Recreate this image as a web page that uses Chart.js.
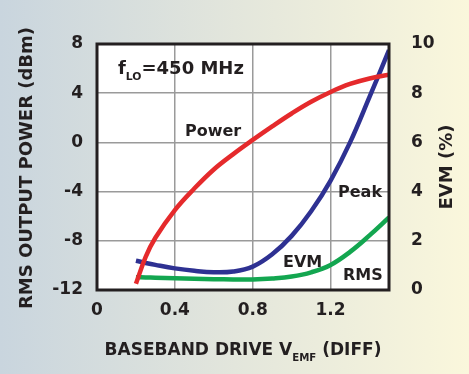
<!DOCTYPE html>
<html>
<head>
<meta charset="utf-8">
<script src="https://cdn.jsdelivr.net/npm/chart.js"></script>
<style>
  html, body { margin: 0; padding: 0; }
  canvas { display: block; }
</style>
</head>
<body>
<canvas id="grafico" width="469" height="374"></canvas>
<script>
// datos
const drive = [0.2, 0.25, 0.3, 0.4, 0.5, 0.6, 0.7, 0.8, 0.9, 1.0, 1.1, 1.2, 1.3, 1.4, 1.5];
const power = [-11.5, -9.3, -7.75, -5.5, -3.75, -2.2, -0.95, 0.2, 1.3, 2.35, 3.3, 4.1, 4.75, 5.2, 5.5];
const evmPeak = [1.19, 1.1, 1.02, 0.88, 0.78, 0.72, 0.75, 0.95, 1.45, 2.2, 3.2, 4.45, 6.0, 7.85, 9.75];
const evmRms = [0.52, 0.51, 0.5, 0.48, 0.46, 0.44, 0.43, 0.43, 0.47, 0.55, 0.72, 1.02, 1.55, 2.22, 2.95];

const xTicks = [0, 0.4, 0.8, 1.2];
const yTicks = [-12, -8, -4, 0, 4, 8];
const y2Ticks = [0, 2, 4, 6, 8, 10];

const FONT = '"DejaVu Sans", sans-serif';
const INK = '#231f20';

const pts = (ys) => drive.map((x, i) => ({ x: x, y: ys[i] }));

// fondo degradado + area blanca
const fondo = {
  id: 'fondo',
  beforeDraw(chart) {
    const { ctx, width, height, chartArea: a } = chart;
    const g = ctx.createLinearGradient(0, 0, width, 0);
    g.addColorStop(0, '#c9d5de');
    g.addColorStop(0.5, '#e3e6dc');
    g.addColorStop(1, '#faf7dc');
    ctx.save();
    ctx.fillStyle = g;
    ctx.fillRect(0, 0, width, height);
    ctx.fillStyle = '#ffffff';
    ctx.fillRect(a.left, a.top, a.right - a.left, a.bottom - a.top);
    ctx.restore();
  }
};

// texto con subindice
function subText(ctx, parts, x, y, size) {
  let cx = x;
  parts.forEach(([t, sub]) => {
    ctx.font = 'bold ' + (sub ? size * 0.6 : size) + 'px ' + FONT;
    ctx.fillText(t, cx, sub ? y + size * 0.35 : y);
    cx += ctx.measureText(t).width;
  });
}
function subWidth(ctx, parts, size) {
  let w = 0;
  parts.forEach(([t, sub]) => {
    ctx.font = 'bold ' + (sub ? size * 0.6 : size) + 'px ' + FONT;
    w += ctx.measureText(t).width;
  });
  return w;
}

const textos = {
  id: 'textos',
  afterDatasetsDraw(chart) {
    const { ctx, chartArea: a } = chart;
    ctx.save();
    // borde del grafico
    ctx.strokeStyle = INK;
    ctx.lineWidth = 3;
    ctx.strokeRect(a.left, a.top, a.right - a.left, a.bottom - a.top);

    ctx.fillStyle = INK;
    ctx.textBaseline = 'alphabetic';
    ctx.textAlign = 'left';
    subText(ctx, [['f', false], ['LO', true], ['=450 MHz', false]], 118, 74, 18);

    ctx.font = 'bold 16px ' + FONT;
    ctx.fillText('Power', 185, 136);
    ctx.fillText('Peak', 338, 197);
    ctx.fillText('EVM', 283, 267);
    ctx.fillText('RMS', 343, 280);

    // titulo eje x
    const px = [['BASEBAND DRIVE V', false], ['EMF', true], [' (DIFF)', false]];
    const w = subWidth(ctx, px, 17);
    subText(ctx, px, 243 - w / 2, 355, 17);

    // titulos ejes y
    ctx.font = 'bold 18px ' + FONT;
    ctx.textAlign = 'center';
    ctx.textBaseline = 'middle';
    ctx.save();
    ctx.translate(27, 168);
    ctx.rotate(-Math.PI / 2);
    ctx.fillText('RMS OUTPUT POWER (dBm)', 0, 0);
    ctx.restore();
    ctx.save();
    ctx.translate(447, 167);
    ctx.rotate(-Math.PI / 2);
    ctx.fillText('EVM (%)', 0, 0);
    ctx.restore();
    ctx.restore();
  }
};

new Chart(document.getElementById('grafico'), {
  type: 'line',
  data: {
    datasets: [
      { label: 'Power', data: pts(power), yAxisID: 'y', borderColor: '#e52a2c', borderWidth: 4.5 },
      { label: 'Peak EVM', data: pts(evmPeak), yAxisID: 'y2', borderColor: '#2e3192', borderWidth: 4.5 },
      { label: 'RMS EVM', data: pts(evmRms), yAxisID: 'y2', borderColor: '#13a650', borderWidth: 4.5 }
    ]
  },
  options: {
    responsive: false,
    animation: false,
    elements: {
      point: { radius: 0 },
      line: { tension: 0.4, borderCapStyle: 'butt', fill: false }
    },
    layout: { padding: { top: 44, left: 0, right: 0, bottom: 0 } },
    scales: {
      x: {
        type: 'linear', min: 0, max: 1.5,
        afterBuildTicks: s => { s.ticks = xTicks.map(v => ({ value: v })); },
        afterFit: s => { s.height = 84; },
        grid: { color: '#9a9a9a', lineWidth: 1.5, drawTicks: false },
        border: { display: false },
        ticks: { color: INK, padding: 10, font: { family: FONT, size: 17, weight: 'bold' }, maxRotation: 0, callback: v => String(v) }
      },
      y: {
        position: 'left', min: -12, max: 8,
        afterBuildTicks: s => { s.ticks = yTicks.map(v => ({ value: v })); },
        afterFit: s => { s.width = 97; },
        grid: { color: '#9a9a9a', lineWidth: 1.5, drawTicks: false },
        border: { display: false },
        ticks: { color: INK, padding: 14, font: { family: FONT, size: 17, weight: 'bold' } }
      },
      y2: {
        position: 'right', min: 0, max: 10,
        afterBuildTicks: s => { s.ticks = y2Ticks.map(v => ({ value: v })); },
        afterFit: s => { s.width = 80; },
        grid: { display: false },
        border: { display: false },
        ticks: { color: INK, padding: 14, font: { family: FONT, size: 17, weight: 'bold' } }
      }
    },
    plugins: {
      legend: { display: false },
      tooltip: { enabled: false }
    }
  },
  plugins: [fondo, textos]
});
</script>
</body>
</html>
